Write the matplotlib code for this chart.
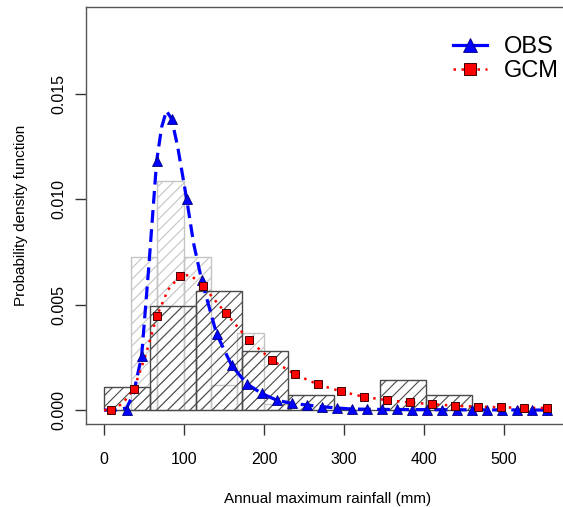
import numpy as np
import matplotlib
matplotlib.use("Agg")
from matplotlib import pyplot as plt
from matplotlib.lines import Line2D

plt.rcParams['font.family'] = ['Liberation Sans', 'DejaVu Sans']
plt.rcParams['hatch.linewidth'] = 0.8

# histograms (density)
obs_edges = [0, 33.3, 66.7, 100, 133.3, 166.7, 200, 233.3]
obs_heights = [0.0, 0.00723, 0.01087, 0.00723, 0.00119, 0.00364, 0.0003]
gcm_edges = [0, 57.5, 115, 172.5, 230, 287.5, 345, 402.5, 460]
gcm_heights = [0.00108, 0.00491, 0.00565, 0.00282, 0.0007, 0.0, 0.00141, 0.0007]

# fitted density curves, marker points
obs_x = [28.3, 47.0, 65.8, 84.5, 103.3, 122.0, 140.8, 159.5, 178.3, 197.0,
         215.8, 234.5, 253.3, 272.0, 290.8, 309.5, 328.3, 347.0, 365.8, 384.5,
         403.3, 422.0, 440.8, 459.5, 478.3, 497.0, 515.8, 534.5, 553.3]
obs_y = [0.0, 0.00255, 0.0118, 0.0138, 0.0100, 0.00617, 0.0036, 0.00212, 0.00125, 0.00079,
         0.00047, 0.00032, 0.00024, 0.00016, 0.0001, 0.00005, 0.00004, 0.00003, 0.00003, 0.00002,
         0.00002, 0.00001, 0.00001, 0.00001, 0.00001, 0.0, 0.0, 0.0, 0.0]
gcm_x = [8.8, 37.5, 66.2, 94.9, 123.6, 152.3, 181.0, 209.7, 238.4, 267.1,
         295.8, 324.5, 353.2, 381.9, 410.6, 439.3, 468.0, 496.7, 525.4, 554.1]
gcm_y = [0.0, 0.001, 0.00446, 0.00636, 0.00589, 0.00459, 0.00332, 0.00237, 0.0017, 0.00122,
         0.00089, 0.00063, 0.00047, 0.00036, 0.00028, 0.0002, 0.00016, 0.00013, 0.00011, 0.0001]

# the curves themselves (a few extra points read near the peaks)
obs_line_x = [0, 15, 28.3, 37, 47.0, 56, 65.8, 72, 78, 84.5, 92, 103.3, 112, 122.0, 140.8,
              159.5, 178.3, 197.0, 215.8, 234.5, 253.3, 272.0, 290.8, 309.5, 347.0, 403.3,
              478.3, 553.3]
obs_line_y = [0.0, 0.0, 0.0001, 0.0008, 0.00255, 0.0068, 0.0118, 0.0134, 0.01418, 0.0138,
              0.0125, 0.0100, 0.0079, 0.00617, 0.0036, 0.00212, 0.00125, 0.00079, 0.00047,
              0.00032, 0.00024, 0.00016, 0.0001, 0.00005, 0.00003, 0.00002, 0.00001, 0.0]
gcm_line_x = [0, 8.8, 23, 37.5, 52, 66.2, 80, 94.9, 108, 123.6, 152.3, 181.0, 209.7, 238.4,
              267.1, 295.8, 324.5, 353.2, 381.9, 410.6, 439.3, 468.0, 496.7, 525.4, 554.1]
gcm_line_y = [0.0, 0.0, 0.0003, 0.001, 0.0026, 0.00446, 0.0057, 0.00636, 0.0064, 0.00589,
              0.00459, 0.00332, 0.00237, 0.0017, 0.00122, 0.00089, 0.00063, 0.00047, 0.00036,
              0.00028, 0.0002, 0.00016, 0.00013, 0.00011, 0.0001]

x_ticks = [0, 100, 200, 300, 400, 500]
y_ticks = [0.0, 0.005, 0.010, 0.015]
y_labels = ['0.000', '0.005', '0.010', '0.015']

fig = plt.figure(figsize=(5.63, 5.07), dpi=100)
ax = fig.add_axes([86 / 563, 83 / 507, 484 / 563, 417 / 507])

ax.bar(obs_edges[:-1], obs_heights, width=np.diff(obs_edges), align='edge',
       fill=False, hatch='///', edgecolor='#c4c4c4', linewidth=1.0)
ax.bar(gcm_edges[:-1], gcm_heights, width=np.diff(gcm_edges), align='edge',
       fill=False, hatch='///', edgecolor='#4a4a4a', linewidth=1.0)

ax.plot(obs_line_x, obs_line_y, color='#0000ff', lw=2.3, linestyle=(0, (4, 2)))
ax.plot(gcm_line_x, gcm_line_y, color='#ff0000', lw=1.8, linestyle=(0, (1, 2.2)))
ax.plot(obs_x, obs_y, linestyle='none', marker='^', ms=7.5, color='#0000ff',
        markeredgecolor='#000080', markeredgewidth=0.6)
ax.plot(gcm_x, gcm_y, linestyle='none', marker='s', ms=5.5, color='#ff0000',
        markeredgecolor='#400000', markeredgewidth=0.7)

ax.set_xlim(-22.5, 582.5)
ax.set_ylim(-0.00066, 0.0191)
ax.set_xticks(x_ticks)
ax.set_yticks(y_ticks)
ax.set_yticklabels(y_labels, rotation=90, va='center')
ax.tick_params(direction='out', length=8, width=1, color='#333333', labelsize=11.5)
ax.tick_params(axis='x', pad=12)
ax.tick_params(axis='y', pad=6)
for s in ax.spines.values():
    s.set_color('#555555')
    s.set_linewidth(1.0)

ax.set_xlabel('Annual maximum rainfall (mm)', fontsize=11, labelpad=18)
ax.set_ylabel('Probability density function', fontsize=11, labelpad=17)

handles = [
    Line2D([], [], color='#0000ff', lw=2.3, marker='^', ms=10,
           markeredgecolor='#000080', markeredgewidth=0.6),
    Line2D([], [], color='#ff0000', lw=1.8, linestyle=(0, (1, 2.2)), marker='s', ms=8,
           markeredgecolor='#400000', markeredgewidth=0.7),
]
fig.legend(handles, ['OBS', 'GCM'], loc='upper left', bbox_to_anchor=(453 / 563, 1 - 36 / 507),
           frameon=False, fontsize=17, handlelength=1.45, handletextpad=0.7,
           labelspacing=0.1, borderpad=0, borderaxespad=0)

fig.savefig('out.png', dpi=100)
